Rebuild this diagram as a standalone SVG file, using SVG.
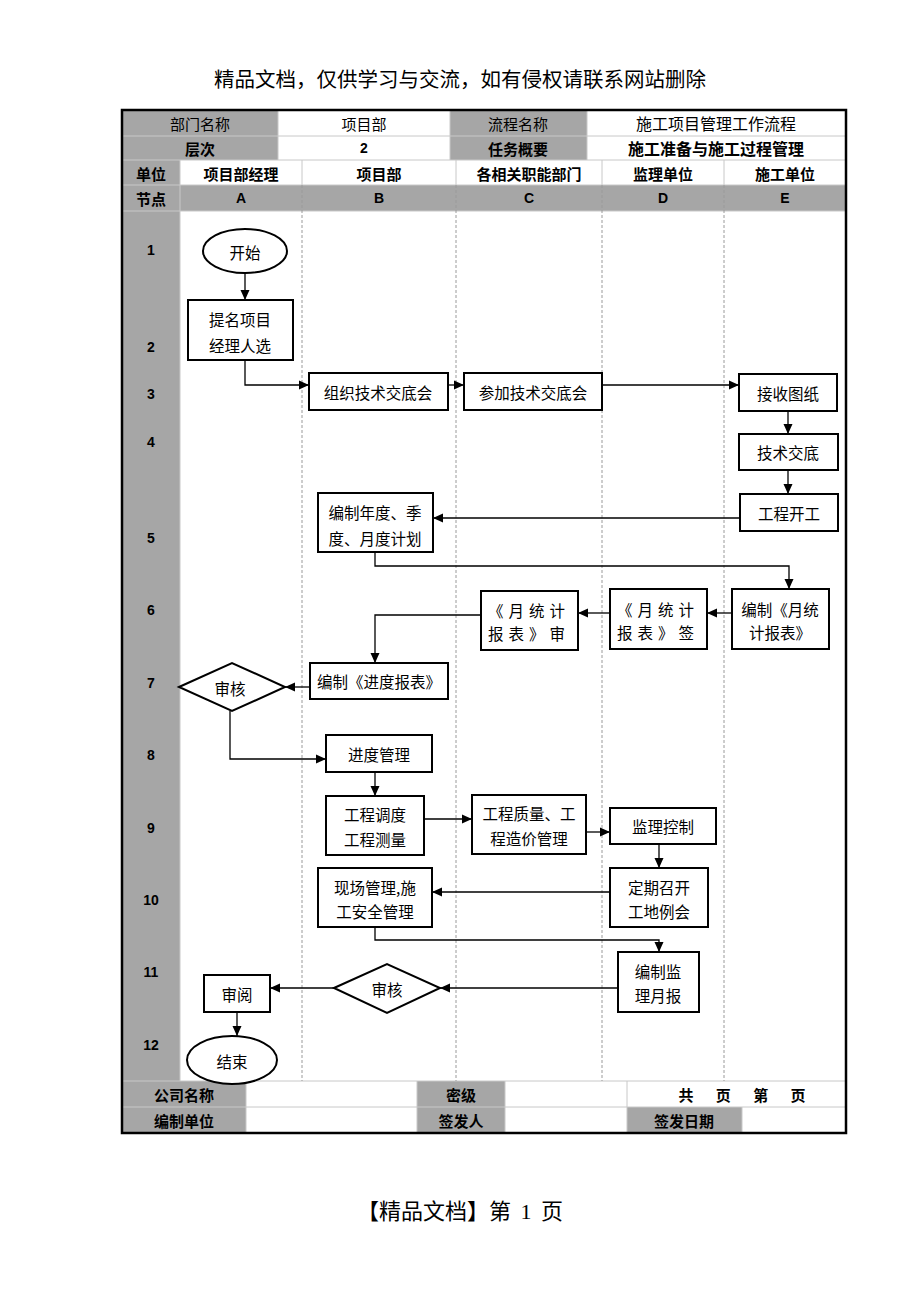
<svg xmlns="http://www.w3.org/2000/svg" width="920" height="1302" viewBox="0 0 920 1302">
<style>
.cjk{font-family:"Noto Sans CJK SC","Liberation Sans",sans-serif;}
.hd{font-family:"Noto Sans CJK SC","Liberation Sans",sans-serif;font-size:15px;text-anchor:middle;dominant-baseline:central;fill:#000;}
.b{font-weight:bold;}
.lat{font-family:"Liberation Sans","Noto Sans CJK SC",sans-serif;font-weight:bold;font-size:14px;text-anchor:middle;dominant-baseline:central;}
.gray{fill:#a6a6a6;}
.cell{fill:none;stroke:#c8c8c8;stroke-width:1;}
.lane{stroke:#9a9a9a;stroke-width:1;stroke-dasharray:3,2;}
.box{fill:#fff;stroke:#000;stroke-width:2;}
.nt{font-family:"Noto Sans CJK SC","Liberation Sans",sans-serif;font-size:15.5px;text-anchor:middle;dominant-baseline:central;fill:#000;}
.con{fill:none;stroke:#000;stroke-width:1.3;}
.page{font-family:"Liberation Serif","Noto Sans CJK SC",serif;font-size:20.5px;text-anchor:middle;fill:#000;}
</style>
<defs>
<marker id="ah" markerUnits="userSpaceOnUse" markerWidth="10" markerHeight="10" viewBox="0 0 10 10" refX="10" refY="5" orient="auto">
<path d="M0,0.5 L10,5 L0,9.5 Z" fill="#000"/>
</marker>
</defs>
<rect width="920" height="1302" fill="#fff"/>

<text class="page" x="460" y="87">精品文档，仅供学习与交流，如有侵权请联系网站删除</text>
<text class="page" x="460" y="1219" style="font-size:22px;word-spacing:4px">【精品文档】第 1 页</text>

<g id="table">
<rect class="gray" x="122" y="110" width="156" height="50"/>
<rect class="gray" x="450" y="110" width="137" height="50"/>
<rect class="gray" x="122" y="160" width="58" height="25"/>
<rect class="gray" x="122" y="185" width="724" height="26"/>
<rect class="gray" x="122" y="211" width="58" height="870"/>
<rect class="gray" x="122" y="1081" width="124" height="52"/>
<rect class="gray" x="417" y="1081" width="88" height="52"/>
<rect class="gray" x="627" y="1107" width="115" height="26"/>

<line class="cell" x1="122" y1="136" x2="846" y2="136"/>
<line class="cell" x1="122" y1="160" x2="846" y2="160"/>
<line class="cell" x1="122" y1="185" x2="846" y2="185"/>
<line class="cell" x1="122" y1="211" x2="846" y2="211"/>
<line class="cell" x1="278" y1="110" x2="278" y2="160"/>
<line class="cell" x1="450" y1="110" x2="450" y2="160"/>
<line class="cell" x1="587" y1="110" x2="587" y2="160"/>
<line class="cell" x1="180" y1="160" x2="180" y2="1081"/>
<line class="cell" x1="302" y1="160" x2="302" y2="185"/>
<line class="cell" x1="456" y1="160" x2="456" y2="185"/>
<line class="cell" x1="602" y1="160" x2="602" y2="185"/>
<line class="cell" x1="724" y1="160" x2="724" y2="185"/>
<line class="cell" x1="122" y1="1081" x2="846" y2="1081"/>
<line class="cell" x1="122" y1="1107" x2="846" y2="1107"/>
<line class="cell" x1="246" y1="1081" x2="246" y2="1133"/>
<line class="cell" x1="417" y1="1081" x2="417" y2="1133"/>
<line class="cell" x1="505" y1="1081" x2="505" y2="1133"/>
<line class="cell" x1="627" y1="1081" x2="627" y2="1133"/>
<line class="cell" x1="742" y1="1107" x2="742" y2="1133"/>
<line class="lane" x1="302" y1="185" x2="302" y2="1081"/>
<line class="lane" x1="456" y1="185" x2="456" y2="1081"/>
<line class="lane" x1="602" y1="185" x2="602" y2="1081"/>
<line class="lane" x1="724" y1="185" x2="724" y2="1081"/>

<rect x="122" y="110" width="724" height="1023" fill="none" stroke="#000" stroke-width="2.5"/>

<text class="hd" x="200" y="123">部门名称</text>
<text class="hd" x="364" y="123">项目部</text>
<text class="hd" x="518" y="123">流程名称</text>
<text class="hd" x="716" y="123" style="font-size:16px">施工项目管理工作流程</text>
<text class="hd b" x="200" y="148">层次</text>
<text class="lat" x="364" y="148">2</text>
<text class="hd b" x="518" y="148">任务概要</text>
<text class="hd b" x="716" y="148" style="font-size:16px">施工准备与施工过程管理</text>
<text class="hd b" x="151" y="173">单位</text>
<text class="hd b" x="241" y="173">项目部经理</text>
<text class="hd b" x="379" y="173">项目部</text>
<text class="hd b" x="529" y="173">各相关职能部门</text>
<text class="hd b" x="663" y="173">监理单位</text>
<text class="hd b" x="785" y="173">施工单位</text>
<text class="hd b" x="151" y="198">节点</text>
<text class="lat" x="241" y="198">A</text>
<text class="lat" x="379" y="198">B</text>
<text class="lat" x="529" y="198">C</text>
<text class="lat" x="663" y="198">D</text>
<text class="lat" x="785" y="198">E</text>

<text class="lat" x="151" y="250">1</text>
<text class="lat" x="151" y="347">2</text>
<text class="lat" x="151" y="394">3</text>
<text class="lat" x="151" y="442">4</text>
<text class="lat" x="151" y="538">5</text>
<text class="lat" x="151" y="610">6</text>
<text class="lat" x="151" y="683">7</text>
<text class="lat" x="151" y="755">8</text>
<text class="lat" x="151" y="828">9</text>
<text class="lat" x="151" y="900">10</text>
<text class="lat" x="151" y="972">11</text>
<text class="lat" x="151" y="1045">12</text>

<text class="hd b" x="184" y="1094">公司名称</text>
<text class="hd b" x="461" y="1094">密级</text>
<text class="hd b" x="742" y="1094" style="word-spacing:19px" xml:space="preserve">共 页 第 页</text>
<text class="hd b" x="184" y="1120">编制单位</text>
<text class="hd b" x="461" y="1120">签发人</text>
<text class="hd b" x="684" y="1120">签发日期</text>
</g>

<g id="connectors">
<path class="con" marker-end="url(#ah)" d="M245,273 V300"/>
<path class="con" marker-end="url(#ah)" d="M245,360 V385 H309"/>
<path class="con" marker-end="url(#ah)" d="M448,385 H464"/>
<path class="con" marker-end="url(#ah)" d="M602,385 H739"/>
<path class="con" marker-end="url(#ah)" d="M788,411 V434"/>
<path class="con" marker-end="url(#ah)" d="M788,470 V494"/>
<path class="con" marker-end="url(#ah)" d="M740,518 H433"/>
<path class="con" marker-end="url(#ah)" d="M375,552 V566 H789 V589"/>
<path class="con" marker-end="url(#ah)" d="M732,613 H707"/>
<path class="con" marker-end="url(#ah)" d="M610,613 H578"/>
<path class="con" marker-end="url(#ah)" d="M481,615 H375 V663"/>
<path class="con" marker-end="url(#ah)" d="M310,687 H285"/>
<path class="con" marker-end="url(#ah)" d="M230,711 V759 H326"/>
<path class="con" marker-end="url(#ah)" d="M375,772 V796"/>
<path class="con" marker-end="url(#ah)" d="M424,819 H472"/>
<path class="con" marker-end="url(#ah)" d="M586,832 H610"/>
<path class="con" marker-end="url(#ah)" d="M659,844 V868"/>
<path class="con" marker-end="url(#ah)" d="M610,892 H432"/>
<path class="con" marker-end="url(#ah)" d="M375,927 V940 H659 V952"/>
<path class="con" marker-end="url(#ah)" d="M618,988 H440"/>
<path class="con" marker-end="url(#ah)" d="M334,988 H270"/>
<path class="con" marker-end="url(#ah)" d="M237,1012 V1036"/>
</g>

<g id="start">
<ellipse class="box" cx="245" cy="251" rx="42" ry="22" stroke-width="1.5"/>
<text class="nt" x="245" y="252">开始</text>
</g>
<g id="a2">
<rect class="box" x="188" y="300" width="105" height="60"/>
<text class="nt" x="240" y="319">提名项目</text>
<text class="nt" x="240" y="345">经理人选</text>
</g>
<g id="b3">
<rect class="box" x="309" y="373" width="139" height="37"/>
<text class="nt" x="378" y="392">组织技术交底会</text>
</g>
<g id="c3">
<rect class="box" x="464" y="373" width="138" height="37"/>
<text class="nt" x="533" y="392">参加技术交底会</text>
</g>
<g id="e3">
<rect class="box" x="739" y="374" width="98" height="37"/>
<text class="nt" x="788" y="393">接收图纸</text>
</g>
<g id="e4">
<rect class="box" x="739" y="434" width="99" height="36"/>
<text class="nt" x="788" y="452">技术交底</text>
</g>
<g id="e5">
<rect class="box" x="740" y="494" width="98" height="37"/>
<text class="nt" x="789" y="513">工程开工</text>
</g>
<g id="b5">
<rect class="box" x="318" y="493" width="115" height="59"/>
<text class="nt" x="375" y="512">编制年度、季</text>
<text class="nt" x="375" y="538">度、月度计划</text>
</g>
<g id="e6">
<rect class="box" x="732" y="589" width="97" height="60"/>
<text class="nt" x="780" y="609">编制《月统</text>
<text class="nt" x="780" y="632">计报表》</text>
</g>
<g id="d6">
<rect class="box" x="610" y="589" width="97" height="60"/>
<text class="nt" x="658" y="609" style="letter-spacing:5px">《月统计</text>
<text class="nt" x="658" y="632" style="letter-spacing:5px">报表》签</text>
</g>
<g id="c6">
<rect class="box" x="481" y="591" width="97" height="59"/>
<text class="nt" x="529" y="610" style="letter-spacing:5px">《月统计</text>
<text class="nt" x="529" y="633" style="letter-spacing:5px">报表》审</text>
</g>
<g id="b7">
<rect class="box" x="310" y="663" width="138" height="36"/>
<text class="nt" x="379" y="681">编制《进度报表》</text>
</g>
<g id="a7">
<path class="box" d="M179,687 L232,663 L285,687 L232,711 Z" stroke-width="1.6"/>
<text class="nt" x="230" y="688">审核</text>
</g>
<g id="b8">
<rect class="box" x="326" y="735" width="106" height="37"/>
<text class="nt" x="379" y="754">进度管理</text>
</g>
<g id="b9">
<rect class="box" x="326" y="796" width="98" height="59"/>
<text class="nt" x="375" y="814">工程调度</text>
<text class="nt" x="375" y="839">工程测量</text>
</g>
<g id="c9">
<rect class="box" x="472" y="795" width="114" height="59"/>
<text class="nt" x="529" y="813">工程质量、工</text>
<text class="nt" x="529" y="838">程造价管理</text>
</g>
<g id="d9">
<rect class="box" x="610" y="808" width="106" height="36"/>
<text class="nt" x="663" y="826">监理控制</text>
</g>
<g id="d10">
<rect class="box" x="610" y="868" width="98" height="59"/>
<text class="nt" x="659" y="887">定期召开</text>
<text class="nt" x="659" y="911">工地例会</text>
</g>
<g id="b10">
<rect class="box" x="318" y="868" width="114" height="59"/>
<text class="nt" x="375" y="887">现场管理,施</text>
<text class="nt" x="375" y="911">工安全管理</text>
</g>
<g id="d11">
<rect class="box" x="618" y="952" width="81" height="60"/>
<text class="nt" x="658" y="971">编制监</text>
<text class="nt" x="658" y="995">理月报</text>
</g>
<g id="b11">
<path class="box" d="M334,988 L387,964 L440,988 L387,1013 Z" stroke-width="1.6"/>
<text class="nt" x="387" y="989">审核</text>
</g>
<g id="a11">
<rect class="box" x="204" y="975" width="66" height="37"/>
<text class="nt" x="237" y="994">审阅</text>
</g>
<g id="end">
<ellipse class="box" cx="232" cy="1060" rx="45" ry="24" stroke-width="1.5"/>
<text class="nt" x="232" y="1061">结束</text>
</g>
</svg>
